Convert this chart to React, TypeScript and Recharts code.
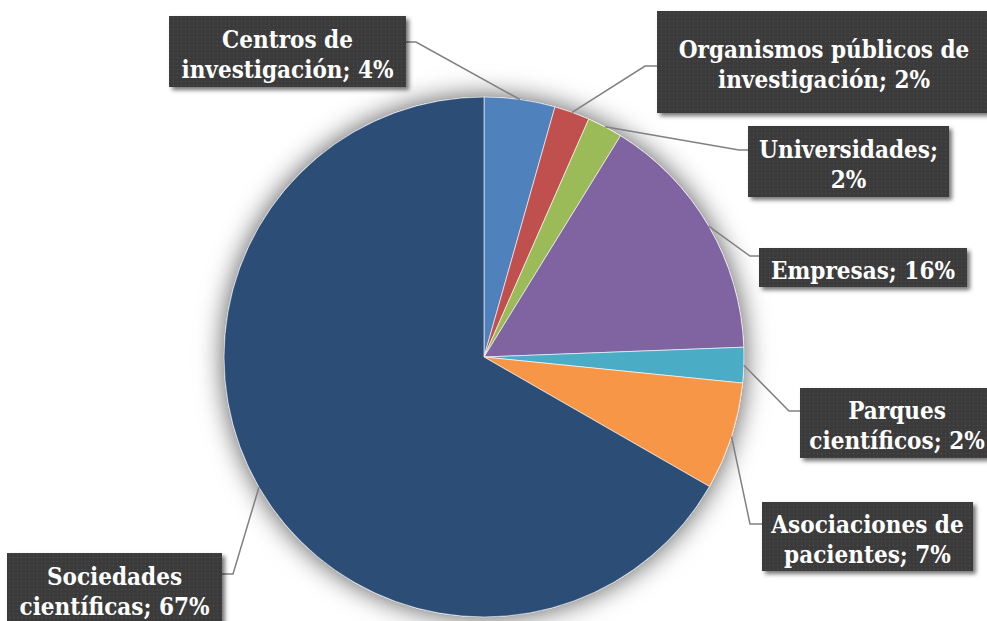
import React from 'react';
import { PieChart, Pie, Cell } from 'recharts';

// ---- data ----
const categories = [
  'Centros de investigación',
  'Organismos públicos de investigación',
  'Universidades',
  'Empresas',
  'Parques científicos',
  'Asociaciones de pacientes',
  'Sociedades científicas',
];
const shares = [4.4, 2.2, 2.2, 15.6, 2.2, 6.7, 66.7];
const colors = ['#4F81BD', '#C0504D', '#9BBB59', '#8064A2', '#4BACC6', '#F79646', '#2C4D75'];
// number of words on the first label line
const labelWrap = [2, 3, 1, 99, 1, 2, 1];

const data = categories.map((name, i) => ({ name, value: shares[i] }));

// ---- label layout (box + elbow of leader line) ----
const LABEL_BOXES = [
  { x: 169, y: 16, w: 237, h: 71, ex: 416, ey: 42, side: 'right' },
  { x: 657, y: 11, w: 334, h: 102, ex: 645, ey: 66, side: 'left' },
  { x: 748, y: 126, w: 201, h: 71, ex: 739, ey: 150, side: 'left' },
  { x: 759, y: 248, w: 208, h: 39, ex: 750, ey: 256, side: 'left' },
  { x: 800, y: 388, w: 194, h: 70, ex: 789, ey: 411, side: 'left' },
  { x: 762, y: 502, w: 211, h: 69, ex: 750, ey: 524, side: 'left' },
  { x: 7, y: 553, w: 215, h: 72, ex: 233, ey: 574, side: 'right' },
];

const RADIAN = Math.PI / 180;

const renderLabel = (props: any) => {
  const { cx, cy, midAngle, outerRadius, index, percent } = props;
  const sx = cx + outerRadius * Math.cos(-midAngle * RADIAN);
  const sy = cy + outerRadius * Math.sin(-midAngle * RADIAN);
  const b = LABEL_BOXES[index];
  const text = `${categories[index]}; ${Math.round(percent * 100)}%`;
  const words = text.split(' ');
  const n1 = labelWrap[index];
  const lines = n1 >= words.length ? [text] : [words.slice(0, n1).join(' '), words.slice(n1).join(' ')];
  const edgeX = b.side === 'left' ? b.x : b.x + b.w;
  const n = lines.length;
  const tx = b.x + b.w / 2;
  return (
    <g key={`lbl-${index}`}>
      <polyline
        points={`${sx},${sy} ${b.ex},${b.ey} ${edgeX},${b.ey}`}
        fill="none"
        stroke="#808080"
        strokeWidth={1.5}
      />
      <rect x={b.x} y={b.y} width={b.w} height={b.h} fill="url(#dots)" filter="url(#boxShadow)" />
      <text
        textAnchor="middle"
        fill="#ffffff"
        fontFamily="'DejaVu Serif Condensed', 'DejaVu Serif', serif"
        fontWeight="bold"
        fontSize={24}
      >
        {lines.map((l, i) => (
          <tspan key={i} x={tx} y={b.y + b.h / 2 + 11 - (n - 1) * 15 + i * 30}>
            {l}
          </tspan>
        ))}
      </text>
    </g>
  );
};

export default function App() {
  return (
    <div style={{ position: 'absolute', left: 0, top: 0, width: 987, height: 621, background: '#fff' }}>
      <style>{`.halo-pie { filter: url(#halo); }`}</style>
      <PieChart width={987} height={621} margin={{ top: 0, right: 0, bottom: 0, left: 0 }}>
        <defs>
          <pattern id="dots" width="4" height="4" patternUnits="userSpaceOnUse">
            <rect width="4" height="4" fill="#3b3b3b" />
            <rect x="1" y="1" width="1" height="1" fill="#515151" />
          </pattern>
          <filter id="boxShadow" x="-10%" y="-10%" width="130%" height="140%">
            <feDropShadow dx="3" dy="3" stdDeviation="2" floodColor="#000" floodOpacity="0.55" />
          </filter>
          <filter id="halo" x="-20%" y="-20%" width="140%" height="140%">
            <feDropShadow dx="0" dy="0" stdDeviation="12" floodColor="#000" floodOpacity="0.35" />
          </filter>
        </defs>
        <Pie
          className="halo-pie"
          data={[{ name: 'bg', value: 1 }]}
          dataKey="value"
          cx={484}
          cy={357}
          outerRadius={260}
          startAngle={90}
          endAngle={-270}
          fill="#ffffff"
          stroke="none"
          isAnimationActive={false}
          label={false}
          labelLine={false}
        />
        <Pie
          data={data}
          dataKey="value"
          nameKey="name"
          cx={484}
          cy={357}
          outerRadius={260}
          startAngle={90}
          endAngle={-270}
          stroke="#ffffff"
          strokeOpacity={0.6}
          strokeWidth={1}
          isAnimationActive={false}
          label={renderLabel}
          labelLine={false}
        >
          {data.map((d, i) => (
            <Cell key={d.name} fill={colors[i]} />
          ))}
        </Pie>
      </PieChart>
    </div>
  );
}
